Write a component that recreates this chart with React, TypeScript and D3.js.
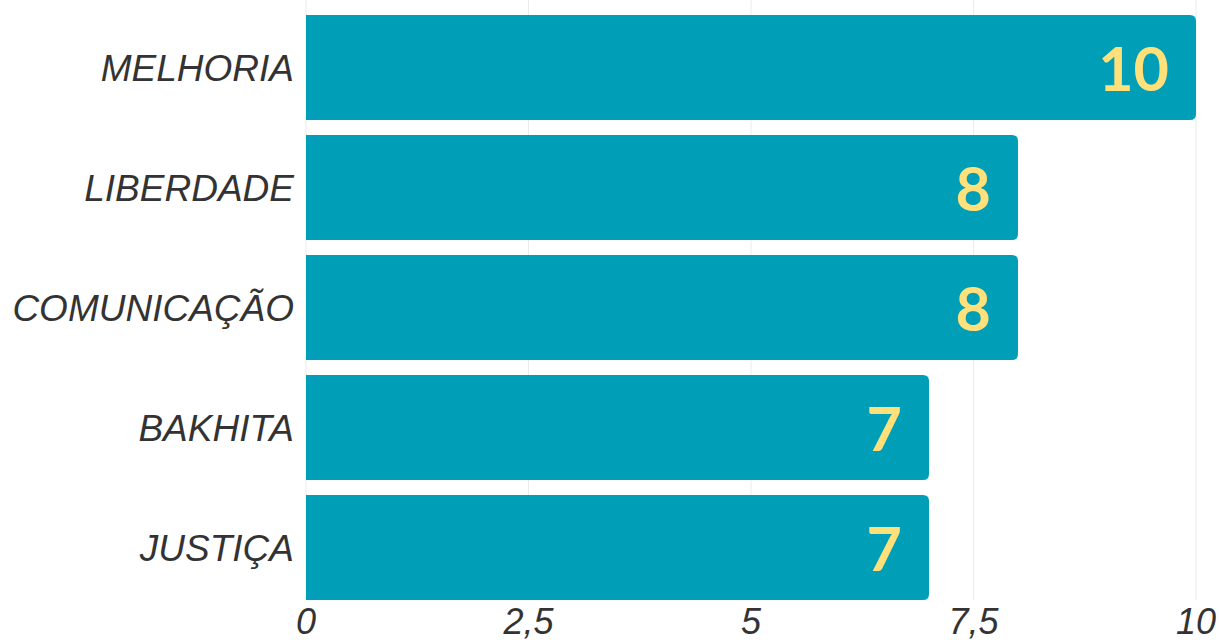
import React from "react";
import * as d3 from "d3";

const categories = ["MELHORIA", "LIBERDADE", "COMUNICAÇÃO", "BAKHITA", "JUSTIÇA"];
const values = [10, 8, 8, 7, 7];
const tickValues = [0, 2.5, 5, 7.5, 10];
const tickLabels = ["0", "2,5", "5", "7,5", "10"];

const W = 1219;
const H = 640;
const margin = { left: 306, right: 23, top: 15, bottom: 40 };

export default function App() {
  const x = d3.scaleLinear().domain([0, 10]).range([margin.left, W - margin.right]);
  const y = d3
    .scaleBand<string>()
    .domain(categories)
    .range([margin.top - 7.5, 607.5])
    .paddingInner(0.125)
    .paddingOuter(0.0625);
  const bh = y.bandwidth();
  const r = 6;
  const barPath = (v: number, top: number) => {
    const x0 = x(0);
    const x1 = x(v);
    return `M${x0},${top}H${x1 - r}Q${x1},${top} ${x1},${top + r}V${top + bh - r}Q${x1},${top + bh} ${x1 - r},${top + bh}H${x0}Z`;
  };
  return (
    <div style={{ position: "absolute", left: 0, top: 0 }}>
      <svg width={W} height={H} style={{ display: "block" }}>
        <rect width={W} height={H} fill="#fff" />
        {tickValues.map((t, i) => (
          <line key={i} x1={x(t)} x2={x(t)} y1={0} y2={600} stroke="#ebebeb" strokeWidth={1} />
        ))}
        {categories.map((c, i) => {
          const top = y(c)!;
          return (
            <g key={c}>
              <path d={barPath(values[i], top)} fill="#009FB7" />
              <text
                x={x(values[i]) - 27}
                y={top + bh / 2 + 23}
                textAnchor="end"
                fontFamily="Lato, sans-serif"
                fontWeight="bold"
                fontSize={61}
                fill="#FFE07A"
              >
                {values[i]}
              </text>
              <text
                x={294}
                y={top + bh / 2 + 13}
                textAnchor="end"
                fontFamily="'Liberation Sans', Arial, sans-serif"
                fontStyle="italic"
                fontSize={37}
                fill="#333333"
              >
                {c}
              </text>
            </g>
          );
        })}
        {tickValues.map((t, i) => (
          <text
            key={i}
            x={x(t)}
            y={634}
            textAnchor="middle"
            fontFamily="'Liberation Sans', Arial, sans-serif"
            fontStyle="italic"
            fontSize={36}
            fill="#333333"
          >
            {tickLabels[i]}
          </text>
        ))}
      </svg>
    </div>
  );
}
